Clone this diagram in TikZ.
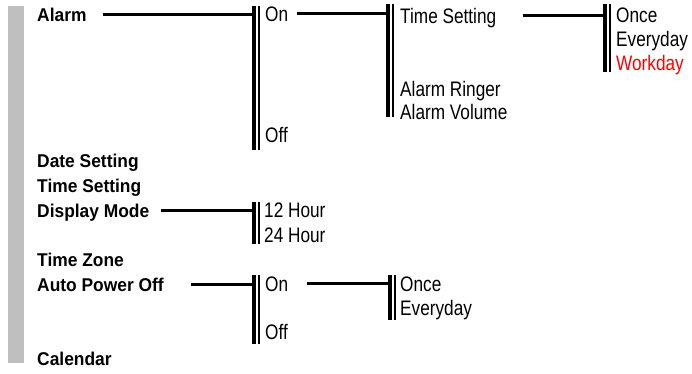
\documentclass[tikz,border=0pt]{standalone}
\usepackage{fontspec}
\setmainfont{Liberation Sans}
\newfontfamily\narrowfont[FakeStretch=0.82]{Liberation Sans}
\newfontfamily\menufont[FakeStretch=0.94]{Liberation Sans}
\usetikzlibrary{positioning}

\tikzset{
  menu/.style={font=\menufont\bfseries\fontsize{18.5}{21}\selectfont},
  opt/.style={font=\narrowfont\fontsize{21}{24}\selectfont},
  link/.style={line width=2.5pt},
}

\begin{document}
\begin{tikzpicture}[x=1pt,y=-1pt,every node/.style={inner sep=0pt,anchor=base west,text depth=0pt}]
\useasboundingbox (0,0) rectangle (692,373);
% side bar
\fill[gray!50] (8,6) rectangle (24,363);
% main menu
\node[menu] (alarm) at (37,21) {Alarm};
\node[menu] (date) at (37,167) {Date Setting};
\node[menu] (time) at (37,192) {Time Setting};
\node[menu] (disp) at (37,217) {Display Mode};
\node[menu] (zone) at (37,266) {Time Zone};
\node[menu] (apo) at (37,291) {Auto Power Off};
\node[menu] (cal) at (37,365) {Calendar};
% sub menus
\node[opt] (alon) at (265,21) {On};
\node[opt] (aloff) at (265,142) {Off};
\node[opt] (alset) at (400,23) {Time Setting};
\node[opt] (alring) at (400,96) {Alarm Ringer};
\node[opt] (alvol) at (400,119) {Alarm Volume};
\node[opt] (once) at (616,22) {Once};
\node[opt] (every) at (616,46) {Everyday};
\node[opt,red] (work) at (616,70) {Workday};
\node[opt] (h12) at (264,217) {12 Hour};
\node[opt] (h24) at (264,242) {24 Hour};
\node[opt] (apoon) at (265,291) {On};
\node[opt] (apooff) at (265,339) {Off};
\node[opt] (apoonce) at (400,291) {Once};
\node[opt] (apoevery) at (400,315) {Everyday};
% double bars
\foreach \n/\bx/\bt/\bb in {alarm/252/6/150,alon/386/4/117,alset/603/4/72,
                            disp/252/202/244,apo/252/275/344,apoon/388/275/320}{
  \fill (\bx,\bt) rectangle (\bx+4.3,\bb);
  \fill (\bx+6,\bt) rectangle (\bx+7.5,\bb);
  \coordinate (bar-\n) at (\bx,\bt);}
% connectors
\draw[link] ([xshift=16pt]alarm.east) -- (alarm.east -| bar-alarm);
\draw[link] ([xshift=9pt]alon.east) -- (alon.east -| bar-alon);
\draw[link] ([xshift=27pt]alset.east) -- (alset.east -| bar-alset);
\draw[link] ([xshift=12pt]disp.east) -- (disp.east -| bar-disp);
\draw[link] ([xshift=27pt]apo.east) -- (apo.east -| bar-apo);
\draw[link] ([xshift=19pt]apoon.east) -- (apoon.east -| bar-apoon);
\end{tikzpicture}
\end{document}
